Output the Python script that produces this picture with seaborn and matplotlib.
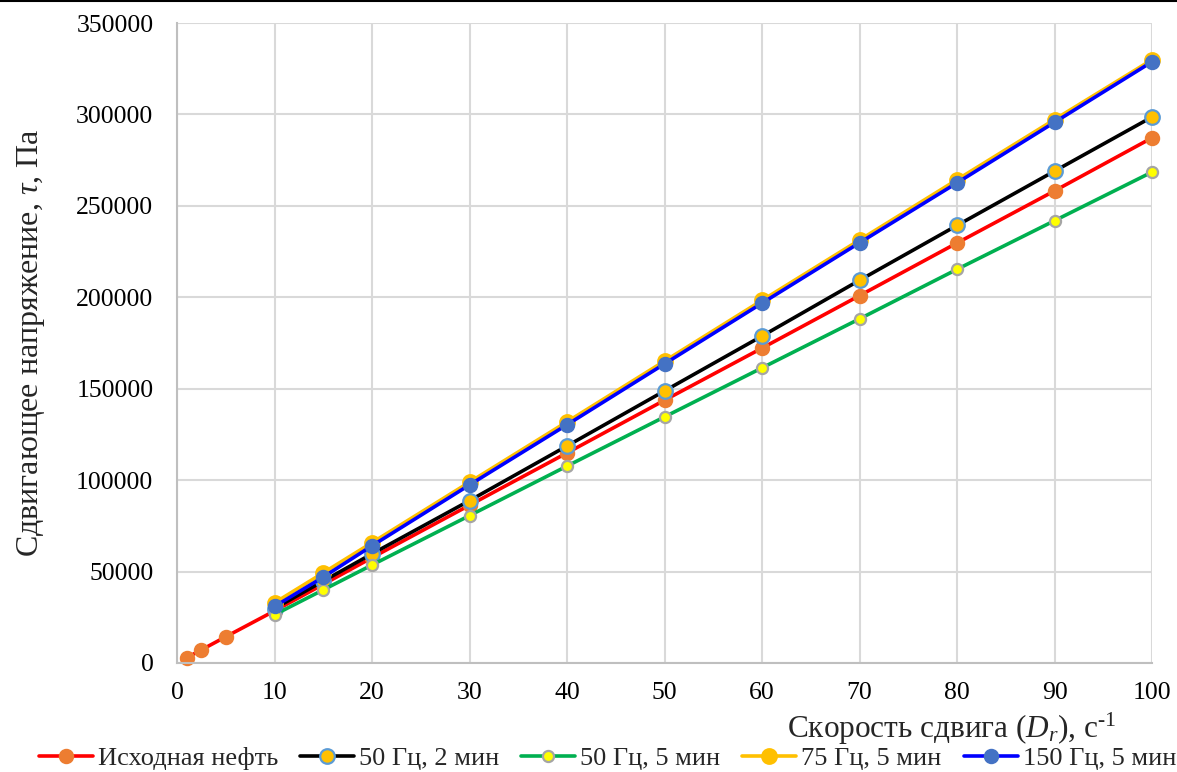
import matplotlib
matplotlib.use("Agg")
import matplotlib.pyplot as plt
from matplotlib.lines import Line2D
import seaborn as sns
import pandas as pd

# Shear rate, s^-1
rate_base = [1, 2.5, 5, 10, 15, 20, 30, 40, 50, 60, 70, 80, 90, 100]
rate_treated = [10, 15, 20, 30, 40, 50, 60, 70, 80, 90, 100]

# Shear stress, Pa
stress_base = [2870, 7180, 14350, 28500, 43000, 57600, 86300, 114900, 143700,
               172200, 200900, 229700, 258200, 287200]
stress_50hz_2min = [29800, 44800, 59700, 88800, 118700, 148800, 178800, 209300,
                    239300, 269000, 298600]
stress_50hz_5min = [26400, 40000, 53600, 80600, 107700, 134600, 161400, 188200,
                    215300, 241900, 268500]
stress_75hz_5min = [32900, 49300, 65800, 98900, 131900, 165100, 198300, 231300,
                    264300, 297200, 329900]
stress_150hz_5min = [30900, 47000, 64100, 97400, 130300, 163600, 196800, 229800,
                     262600, 295700, 328800]

labels = ["Исходная нефть", "50 Гц, 2 мин", "50 Гц, 5 мин", "75 Гц, 5 мин", "150 Гц, 5 мин"]

sns.set_theme(style="white")
plt.rcParams["font.family"] = ["Liberation Serif", "DejaVu Serif"]
plt.rcParams["mathtext.fontset"] = "custom"
plt.rcParams["mathtext.rm"] = "Liberation Serif"
plt.rcParams["mathtext.it"] = "Liberation Serif:italic"

fig = plt.figure(figsize=(11.77, 7.72), dpi=100)
ax = fig.add_axes([0.1504, 0.1412, 0.8284, 0.829])

series = [
    (rate_base, stress_base, dict(color="#FF0000", mfc="#ED7D31", mec="#ED7D31", ms=9.5)),
    (rate_treated, stress_50hz_2min, dict(color="#000000", mfc="#FFC000", mec="#5B9BD5", ms=10.5)),
    (rate_treated, stress_50hz_5min, dict(color="#00B050", mfc="#FFFF00", mec="#A5A5A5", ms=8)),
    (rate_treated, stress_75hz_5min, dict(color="#FFC000", mfc="#FFC000", mec="#FFC000", ms=10.5)),
    (rate_treated, stress_150hz_5min, dict(color="#0000FF", mfc="#4472C4", mec="#4472C4", ms=9.5)),
]

handles = []
for (xs, ys, st), lab in zip(series, labels):
    df = pd.DataFrame({"x": xs, "y": ys})
    sns.lineplot(data=df, x="x", y="y", ax=ax, color=st["color"], lw=2.6,
                 marker="o", markersize=st["ms"], markerfacecolor=st["mfc"],
                 markeredgecolor=st["mec"], markeredgewidth=1.6, legend=False,
                 clip_on=False)
    handles.append(Line2D([0], [0], color=st["color"], lw=2.6, marker="o",
                          markersize=st["ms"], markerfacecolor=st["mfc"],
                          markeredgecolor=st["mec"], markeredgewidth=1.6, label=lab))

ax.set_xlim(0, 100)
ax.set_ylim(0, 350000)
ax.set_xticks(range(0, 101, 10))
ax.set_yticks(range(0, 350001, 50000))
ax.grid(True, color="#D9D9D9", lw=1.5)
ax.set_axisbelow(True)
for side in ("top", "right"):
    ax.spines[side].set_visible(False)
for side in ("left", "bottom"):
    ax.spines[side].set_color("#BFBFBF")
    ax.spines[side].set_linewidth(1.5)
ax.tick_params(axis="both", labelsize=18.5, length=0, colors="#000000")
ax.tick_params(axis="y", pad=17)
ax.tick_params(axis="x", pad=14)

ax.set_xlabel("")
ax.set_ylabel("Сдвигающее напряжение, $\\mathit{τ}$, Па", fontsize=23, labelpad=21)
fig.text(0.949, 0.056, "Скорость сдвига ($\\mathit{D_r}$), с$^{\\mathrm{‐1}}$", fontsize=22.5,
         ha="right", va="center")

fig.legend(handles=handles, loc="center", bbox_to_anchor=(0.516, 0.018), ncol=5,
           frameon=False, fontsize=19, handlelength=2.05, handletextpad=0.19,
           columnspacing=0.83)

fig.add_artist(Line2D([0, 1], [0.999, 0.999], color="black", lw=1.5,
                      transform=fig.transFigure))

fig.savefig("out.png", dpi=100)
